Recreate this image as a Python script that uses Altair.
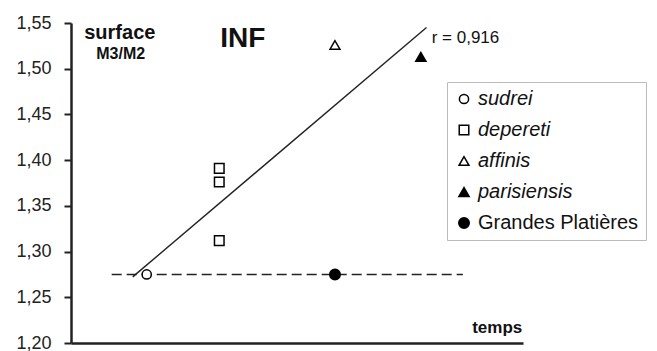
import altair as alt
import pandas as pd

# Measured M3/M2 surface ratios by taxon, placed along a relative time axis
species = ["sudrei", "depereti", "depereti", "depereti", "affinis", "parisiensis", "Grandes Platières"]
temps = [1.675, 3.28, 3.28, 3.28, 5.84, 7.74, 5.84]
surface = [1.275, 1.391, 1.376, 1.312, 1.526, 1.513, 1.275]

# Legend order and symbol styling per taxon
legend_order = ["sudrei", "depereti", "affinis", "parisiensis", "Grandes Platières"]
legend_shapes = ["circle", "square", "triangle-up", "triangle-up", "circle"]
legend_fills = ["white", "white", "white", "black", "black"]
legend_strokes = ["black", "black", "black", "black", "black"]
legend_sizes = [85, 110, 130, 150, 240]

# Regression line (r = 0,916) end points
reg_temps = [1.365, 7.865]
reg_surface = [1.2723, 1.545]

# Horizontal reference at the Grandes Platières value
ref_temps = [0.90, 8.67]
ref_surface = [1.275, 1.275]

y_ticks = [1.20, 1.25, 1.30, 1.35, 1.40, 1.45, 1.50, 1.55]

FONT = "Liberation Sans"

pts = pd.DataFrame({"species": species, "t": temps, "s": surface})
reg = pd.DataFrame({"t": reg_temps, "s": reg_surface})
ref = pd.DataFrame({"t": ref_temps, "s": ref_surface})

x_enc = alt.X(
    "t:Q",
    scale=alt.Scale(domain=[0, 10], nice=False, zero=False),
    axis=alt.Axis(
        title=None, labels=False, ticks=False, grid=False,
        domainColor="#222", domainWidth=2.5,
    ),
)
y_enc = alt.Y(
    "s:Q",
    scale=alt.Scale(domain=[1.20, 1.55], nice=False, zero=False),
    axis=alt.Axis(
        title=None, values=y_ticks, grid=False,
        labelExpr="replace(format(datum.value, '.2f'), '.', ',')",
        labelFont=FONT, labelFontSize=18, labelColor="#222",
        labelPadding=13, tickSize=7, tickWidth=2, tickColor="#222",
        domainColor="#222", domainWidth=2.5,
    ),
)

ref_line = alt.Chart(ref).mark_line(
    color="#222", strokeWidth=1.5, strokeDash=[10, 5]
).encode(x=x_enc, y=y_enc)

reg_line = alt.Chart(reg).mark_line(
    color="#222", strokeWidth=1.4
).encode(x="t:Q", y="s:Q")

legend = alt.Legend(
    title=None,
    orient="none",
    legendX=376,
    legendY=59,
    direction="vertical",
    labelFont=FONT,
    labelFontSize=20,
    labelColor="#111",
    labelFontStyle={"expr": "indexof(datum.label, 'Grandes') >= 0 ? 'normal' : 'italic'"},
    labelOffset=4,
    labelLimit=300,
    rowPadding=11,
    padding=7,
    strokeColor="#bbb",
    fillColor="white",
    symbolStrokeWidth=1.5,
    symbolOpacity=1,
)

points = alt.Chart(pts).mark_point(
    strokeWidth=1.5, opacity=1, fillOpacity=1
).encode(
    x="t:Q",
    y="s:Q",
    shape=alt.Shape("species:N", scale=alt.Scale(domain=legend_order, range=legend_shapes), legend=legend),
    fill=alt.Fill("species:N", scale=alt.Scale(domain=legend_order, range=legend_fills), legend=legend),
    stroke=alt.Stroke("species:N", scale=alt.Scale(domain=legend_order, range=legend_strokes), legend=legend),
    size=alt.Size("species:N", scale=alt.Scale(domain=legend_order, range=legend_sizes), legend=legend),
)


def label(text, t, s, size, weight="normal", align="center"):
    df = pd.DataFrame({"text": [text], "t": [t], "s": [s]})
    return alt.Chart(df).mark_text(
        font=FONT, fontSize=size, fontWeight=weight, align=align,
        baseline="middle", color="#111",
    ).encode(x="t:Q", y="s:Q", text="text:N")


texts = [
    label("surface", 1.08, 1.5395, 20, "bold"),
    label("M3/M2", 1.10, 1.5165, 16, "bold"),
    label("INF", 3.80, 1.5325, 28, "bold"),
    label("r = 0,916", 7.98, 1.5335, 17, align="left"),
    label("temps", 9.43, 1.2165, 17, "bold"),
]

chart = alt.layer(ref_line, reg_line, points, *texts).properties(
    width=452,
    height=320,
    autosize=alt.AutoSizeParams(type="none"),
    padding={"left": 71, "top": 23, "right": 134, "bottom": 8},
    background="white",
).configure_view(stroke=None)

chart.save("out.html", embed_options={"renderer": "svg", "actions": False})
